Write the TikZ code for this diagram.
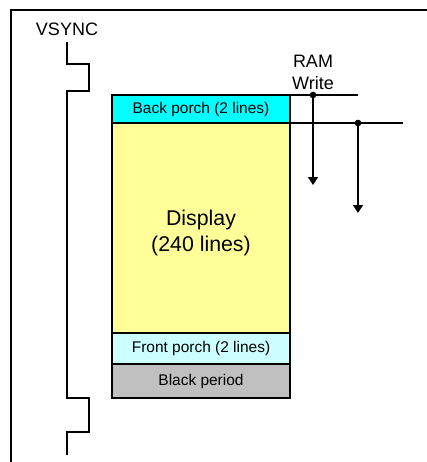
\documentclass[tikz,border=0pt]{standalone}
\usepackage{fontspec}
\setmainfont{Liberation Sans}
\usepackage{xcolor}
\usetikzlibrary{arrows.meta,positioning}
\definecolor{cianporch}{HTML}{00FFFF}
\definecolor{amarillodisp}{HTML}{FFFF99}
\definecolor{cianclaro}{HTML}{CCFFFF}
\definecolor{grisnegro}{HTML}{C0C0C0}
\tikzset{
  franja/.style={rectangle, draw=black, line width=1.5pt, outer sep=0pt,
                 minimum width=133.5pt, inner sep=0pt, align=center,
                 font=\fontsize{11.6}{14}\selectfont},
  rotulo/.style={align=center, inner sep=0pt,
                 font=\fontsize{13.5}{16.5}\selectfont},
  senal/.style={line width=1pt},
  flecha/.style={-{Triangle[length=6pt,width=7.5pt]}, line width=1pt},
  punto/.style={circle, fill=black, inner sep=0pt, minimum size=5pt}
}

\begin{document}
\begin{tikzpicture}[x=0.75pt, y=-0.75pt, node distance=0pt]
  \useasboundingbox (0,0) rectangle (427,462);
  \draw[line width=1.5pt] (427,10) -- (11,10) -- (11,462);

  % VSYNC
  \node[rotulo] (vs) at (67,29) {VSYNC};
  \draw[senal] (67,42) -- ++(0,22) -- ++(22,0) -- ++(0,27) -- ++(-22,0)
    -- (67,398) -- ++(22,0) -- ++(0,34) -- ++(-22,0) -- (67,455);

  % frame
  \node[franja, fill=cianporch, minimum height=21pt, anchor=north west]
    (bp) at (112,95) {Back porch (2 lines)};
  \node[franja, fill=amarillodisp, minimum height=157.5pt, below=of bp,
        label={[align=center, font=\fontsize{16}{19.5}\selectfont,
                yshift=-3.5pt]center:Display\\(240 lines)}] (disp) {};
  \node[franja, fill=cianclaro, minimum height=23.25pt, below=of disp]
    (fp) {Front porch (2 lines)};
  \node[franja, fill=grisnegro, minimum height=25.5pt, below=of fp]
    (bk) {Black period};

  % RAM write
  \node[rotulo] (ram) at (313,72.5) {RAM\\Write};
  \node[punto] (p1) at (313,95) {};
  \node[punto] (p2) at (358,123) {};
  \coordinate (e1) at (358,95);
  \coordinate (e2) at (403,123);
  \coordinate (f1) at (313,185);
  \coordinate (f2) at (358,213);
  \draw[senal] (bp.north east) -- (e1);
  \draw[senal] (bp.south east) -- (e2);
  \draw[flecha] (p1.center) -- (f1);
  \draw[flecha] (p2.center) -- (f2);
\end{tikzpicture}
\end{document}
